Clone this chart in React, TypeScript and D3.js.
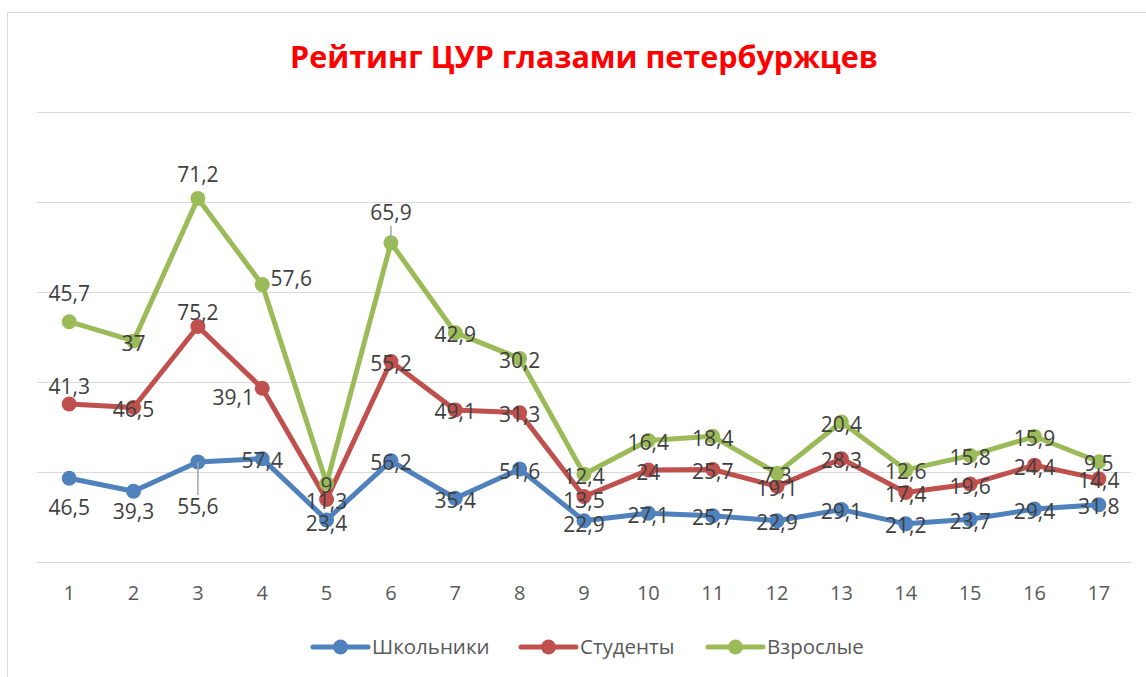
import React from 'react';
import * as d3 from 'd3';

// chart data
const categories = ['1', '2', '3', '4', '5', '6', '7', '8', '9', '10', '11', '12', '13', '14', '15', '16', '17'];
const seriesNames = ['Школьники', 'Студенты', 'Взрослые'];
const schoolchildren = [46.5, 39.3, 55.6, 57.4, 23.4, 56.2, 35.4, 51.6, 22.9, 27.1, 25.7, 22.9, 29.1, 21.2, 23.7, 29.4, 31.8];
const students = [41.3, 46.5, 75.2, 39.1, 11.3, 55.2, 49.1, 31.3, 13.5, 24, 25.7, 19.1, 28.3, 17.4, 19.6, 24.4, 14.4];
const adults = [45.7, 37, 71.2, 57.6, 9, 65.9, 42.9, 30.2, 12.4, 16.4, 18.4, 7.3, 20.4, 12.6, 15.8, 15.9, 9.5];
const title = 'Рейтинг ЦУР глазами петербуржцев';

const colors = ['#4F81BD', '#C0504D', '#9BBB59'];

// label placement, relative to the marker: [dx, dy, leader]
type Place = [number, number, boolean?];
const C: Place = [0, 2];
const labelPlaces: Place[][] = [
  [[0, 29], [0, 20], [0, 45, true], C, [0, 4], C, C, C, [0, 4], C, C, C, C, C, C, C, C],
  [[0, -18], C, [0, -14], [-29, 9], C, C, C, C, [0, 4], C, C, C, C, C, C, C, C],
  [[0, -28], C, [0, -24], [29, -6], C, [0, -30, true], C, C, C, C, C, C, C, C, C, C, C],
];

const width = 1146;
const height = 677;
const margin = {left: 37, right: 15, top: 112, bottom: 115};

const App: React.FC = () => {
  const rows = categories.map((c, i) => ({
    cat: c,
    [seriesNames[0]]: schoolchildren[i],
    [seriesNames[1]]: students[i],
    [seriesNames[2]]: adults[i],
  }));
  const raw = [schoolchildren, students, adults];
  const stacked = d3.stack<any>().keys(seriesNames)(rows);

  const x = d3.scaleBand()
      .domain(categories)
      .range([margin.left, width - margin.right]);
  const y = d3.scaleLinear()
      .domain([0, 250])
      .range([height - margin.bottom, margin.top]);
  const cx = (c: string) => (x(c) || 0) + x.bandwidth() / 2;

  const line = d3.line<[number, number]>()
      .x((d, i) => cx(categories[i]))
      .y(d => y(d[1]));

  const legendX = [313, 521, 708];
  const fmt = (v: number) => String(v).replace('.', ',');

  return (
      <div style={{position: 'absolute', left: 0, top: 0}}>
        <svg width={width} height={height} style={{display: 'block'}}>
          <rect x={0} y={0} width={width} height={height} fill="#fff"/>
          <rect x={7.5} y={12.5} width={width + 20} height={height + 20}
                fill="#fff" stroke="#D9D9D9" strokeWidth={1}/>
          <text x={584} y={68} textAnchor="middle" fill="#FF0000"
                fontFamily="'Open Sans', sans-serif" fontWeight={700} fontSize={30.5}>
            {title}
          </text>

          {y.ticks(5).map(t => (
              <line key={t} x1={margin.left} x2={width - margin.right}
                    y1={Math.round(y(t)) + 0.5} y2={Math.round(y(t)) + 0.5}
                    stroke="#D9D9D9" strokeWidth={1.2}/>
          ))}

          {categories.map(c => (
              <text key={c} x={cx(c)} y={height - margin.bottom + 38}
                    textAnchor="middle" fill="#595959"
                    fontFamily="'Open Sans', sans-serif" fontSize={20}>{c}</text>
          ))}

          {stacked.map((s, si) => (
              <g key={s.key}>
                <path d={line(s as any) || ''} fill="none" stroke={colors[si]}
                      strokeWidth={5} strokeLinejoin="round" strokeLinecap="round"/>
                {s.map((d, i) => (
                    <circle key={i} cx={cx(categories[i])} cy={y(d[1])} r={7.5}
                            fill={colors[si]}/>
                ))}
              </g>
          ))}

          {stacked.map((s, si) => (
              <g key={`lbl-${s.key}`}>
                {s.map((d, i) => {
                  const [dx, dy, leader] = labelPlaces[si][i];
                  const px = cx(categories[i]);
                  const py = y(d[1]);
                  return (
                      <g key={i}>
                        {leader && (
                            <line x1={px} x2={px} y1={py}
                                  y2={dy > 0 ? py + dy - 12 : py + dy + 13}
                                  stroke="#A6A6A6" strokeWidth={1.5}/>
                        )}
                        <text x={px + dx} y={py + dy} dy="0.36em" textAnchor="middle"
                              fill="#404040" fontFamily="'Open Sans', sans-serif"
                              fontSize={21}>{fmt(raw[si][i])}</text>
                      </g>
                  );
                })}
              </g>
          ))}

          {seriesNames.map((n, i) => (
              <g key={n} transform={`translate(${legendX[i]}, 647)`}>
                <line x1={0} x2={55} y1={0} y2={0} stroke={colors[i]}
                      strokeWidth={5} strokeLinecap="round"/>
                <circle cx={27.5} cy={0} r={7.5} fill={colors[i]}/>
                <text x={59} y={0} dy="0.36em" fill="#595959"
                      fontFamily="'Open Sans', sans-serif" fontSize={20.5}>{n}</text>
              </g>
          ))}
        </svg>
      </div>
  );
};

export default App;
